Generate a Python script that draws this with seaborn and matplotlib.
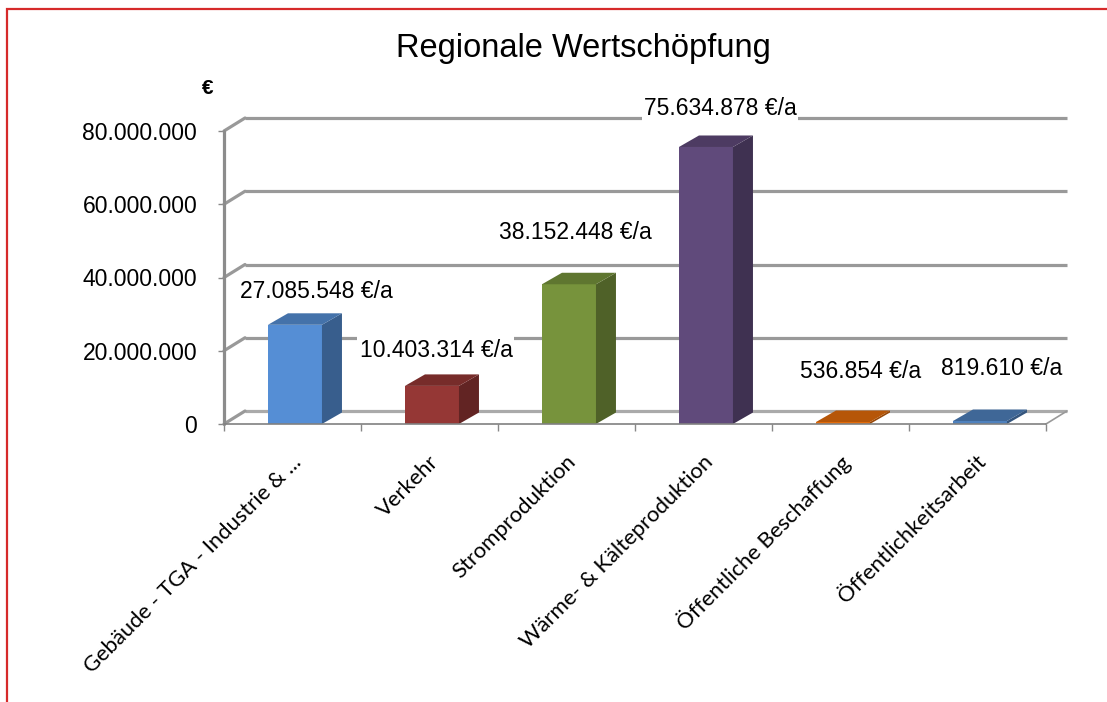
import matplotlib
matplotlib.use("Agg")
import matplotlib.pyplot as plt
import seaborn as sns
import pandas as pd
import numpy as np
from matplotlib.patches import Polygon, Rectangle
from matplotlib.transforms import ScaledTranslation

# Data
categories = ["Gebäude - TGA - Industrie & ...", "Verkehr", "Stromproduktion",
              "Wärme- & Kälteproduktion", "Öffentliche Beschaffung", "Öffentlichkeitsarbeit"]
values = [27085548, 10403314, 38152448, 75634878, 536854, 819610]
y_ticks = [0, 20000000, 40000000, 60000000, 80000000]
title = "Regionale Wertschöpfung"
unit = "€"

# Styling / layout
bar_colors = ["#558ED5", "#953735", "#77933C", "#604A7B", "#E46C0A", "#4F81BD"]
label_dx = [0.172, 0.047, 0.062, 0.120, 0.150, 0.179]     # category units
label_dy = [8.96e6, 9.8e6, 14.0e6, 10.5e6, 13.9e6, 14.3e6]  # value units


def de_fmt(v):
    return f"{v:,}".replace(",", ".")


def shade(color, f):
    r, g, b = matplotlib.colors.to_rgb(color)
    return (r * f, g * f, b * f)


sns.set_style("white")
plt.rcParams['font.family'] = ['Liberation Sans', 'DejaVu Sans']
plt.rcParams['text.color'] = 'black'
plt.rcParams['xtick.labelcolor'] = 'black'
plt.rcParams['ytick.labelcolor'] = 'black'

W, H = 1107, 702
fig = plt.figure(figsize=(W / 100, H / 100), dpi=100)
ax = fig.add_axes([224 / W, 278 / H, 845 / W, 306 / H])

px_cat = 137.0
px_20m = 73.25
DX = 21 / px_cat
DY = 13 / px_20m * 20e6
BDX = 20 / px_cat
BDY = 11.5 / px_20m * 20e6
bar_w = 54 / px_cat
shift = 0.018

df = pd.DataFrame({"cat": categories, "val": values})
sns.barplot(data=df, x="cat", y="val", hue="cat", palette=bar_colors,
            width=bar_w, saturation=1, legend=False, ax=ax, zorder=3)
for p in ax.patches:
    p.set_x(p.get_x() + shift)
    p.set_linewidth(0)

# 3D faces of the bars
for i, (v, c) in enumerate(zip(values, bar_colors)):
    l = i - bar_w / 2 + shift
    r = i + bar_w / 2 + shift
    side = Polygon([(r, 0), (r + BDX, BDY), (r + BDX, v + BDY), (r, v)],
                   closed=True, facecolor=shade(c, 0.66), edgecolor="none", zorder=3)
    top = Polygon([(l, v), (r, v), (r + BDX, v + BDY), (l + BDX, v + BDY)],
                  closed=True, facecolor=shade(c, 0.8), edgecolor="none", zorder=3.1)
    ax.add_patch(side)
    ax.add_patch(top)

# walls / grid
x0, x1 = -0.5, len(categories) - 0.5
grid_c = "#999999"
for t in y_ticks:
    ax.plot([x0 + DX, x1 + DX], [t + DY, t + DY], color=grid_c if t else "#aaaaaa",
            lw=2.3, solid_capstyle="butt", zorder=1, clip_on=False)
    ax.plot([x0, x0 + DX], [t, t + DY], color=grid_c, lw=2.3, zorder=1, clip_on=False)
ax.plot([x0, x0], [0, y_ticks[-1]], color="#8c8c8c", lw=2.3, zorder=2, clip_on=False)
ax.plot([x0, x1], [0, 0], color="#808080", lw=1.2, zorder=4, clip_on=False)
ax.plot([x1, x1 + DX], [0, DY], color="#999999", lw=1.2, zorder=1, clip_on=False)

# data labels
for i, v in enumerate(values):
    ax.text(i + label_dx[i], v + label_dy[i], f"{de_fmt(v)} €/a", ha="center", va="center",
            fontsize=16.5, zorder=6,
            bbox=dict(facecolor="white", edgecolor="none", pad=1.5))

ax.set_xlim(x0, x0 + 845 / px_cat)
ax.set_ylim(0, 306 / px_20m * 20e6)
for s in ax.spines.values():
    s.set_visible(False)

ax.set_yticks(y_ticks)
ax.set_yticklabels([de_fmt(t) for t in y_ticks], fontsize=16.5)
ax.tick_params(axis="y", left=True, length=4.3, width=1, color="#888888", pad=15)

ax.set_xticks(np.arange(len(categories) + 1) - 0.5, minor=True)
ax.set_xticks(np.arange(len(categories)))
ax.set_xticklabels(categories, rotation=45, ha="right", va="center",
                   rotation_mode="anchor", fontsize=15.8, family=["Lato", "DejaVu Sans"])
ax.tick_params(axis="x", which="minor", bottom=True, length=5, width=1, color="#888888")
ax.tick_params(axis="x", which="major", bottom=False, length=0, pad=25)
for lab in ax.get_xticklabels():
    lab.set_transform(lab.get_transform() + ScaledTranslation(0.06, 0, fig.dpi_scale_trans))
ax.set_xlabel("")
ax.set_ylabel("")
ax.patch.set_alpha(0)

fig.text(583 / W, 1 - 48 / H, title, ha="center", va="center", fontsize=23.5)
fig.text(208 / W, 1 - 89 / H, unit, ha="center", va="center", fontsize=15, weight="bold")

fig.add_artist(Rectangle((7 / W, -0.1), 2, 1.1 - 9 / H, transform=fig.transFigure,
                         fill=False, edgecolor="#d62a2a", lw=1.6))

fig.savefig("out.png", dpi=100)
